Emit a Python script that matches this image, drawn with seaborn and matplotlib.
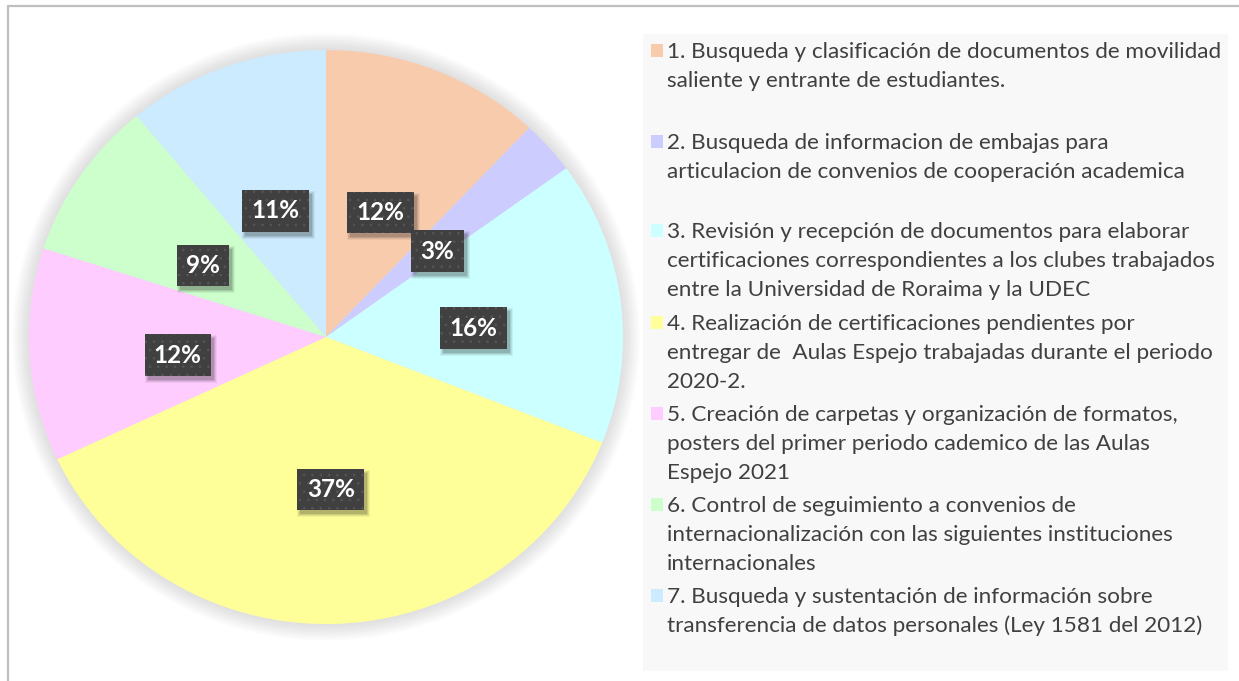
import matplotlib
matplotlib.use("Agg")
import matplotlib.pyplot as plt
import matplotlib.transforms as mtransforms
from matplotlib.patches import Rectangle, Ellipse
from matplotlib.lines import Line2D
import seaborn as sns

# data
labels = [
    "1. Busqueda y clasificación de documentos de movilidad\nsaliente y entrante de estudiantes.",
    "2. Busqueda de informacion de embajas para\narticulacion de convenios de cooperación academica",
    "3. Revisión y recepción de documentos para elaborar\ncertificaciones correspondientes a los clubes trabajados\nentre la Universidad de Roraima y la UDEC",
    "4. Realización de certificaciones pendientes por\nentregar de  Aulas Espejo trabajadas durante el periodo\n2020-2.",
    "5. Creación de carpetas y organización de formatos,\nposters del primer periodo cademico de las Aulas\nEspejo 2021",
    "6. Control de seguimiento a convenios de\ninternacionalización con las siguientes instituciones\ninternacionales",
    "7. Busqueda y sustentación de información sobre\ntransferencia de datos personales (Ley 1581 del 2012)",
]
shares = [12, 3, 16, 37, 12, 9, 11]
colors = sns.color_palette(["#F8CBAD", "#CCCCFF", "#CCFFFF", "#FFFF99",
                            "#FFCCFF", "#CCFFCC", "#CCEBFF"])

sns.set_theme(style="white")
plt.rcParams["font.family"] = ["Lato", "DejaVu Sans"]
plt.rcParams["hatch.linewidth"] = 0.6

W, H = 1239, 681
fig = plt.figure(figsize=(W / 100, H / 100), dpi=100)
fig.patch.set_facecolor("white")


def fx(x):
    return x / W


def fy(y):
    return 1 - y / H


# outer frame (only top and left edges are visible)
fig.add_artist(Line2D([fx(8), 1.01], [fy(6), fy(6)], color="#BFBFBF", lw=1.6))
fig.add_artist(Line2D([fx(8), fx(8)], [fy(6), -0.01], color="#BFBFBF", lw=1.6))

# pie (slightly wider than tall, as in the reference)
cx, cy, rx, ry = 326, 337, 297, 287
ax = fig.add_axes([fx(cx - rx), fy(cy + ry), 2 * rx / W, 2 * ry / H])
for k in range(8):
    glow = Ellipse((0.0, 0.0), 2 * (1.0 + 0.007 * (k + 1)),
                   2 * (1.0 + 0.0072 * (k + 1)), color="#8a8a8a",
                   alpha=0.03, lw=0, zorder=0, clip_on=False)
    ax.add_patch(glow)

wedges, texts, autotexts = ax.pie(
    shares, colors=colors, startangle=90, counterclock=False,
    autopct="%1.0f%%", pctdistance=0.5,
    wedgeprops=dict(linewidth=0, zorder=2),
    textprops=dict(color="white", fontsize=17.5, fontweight="bold"),
)
ax.set_xlim(-1, 1)
ax.set_ylim(-1, 1)
ax.set_aspect("auto")
ax.axis("off")

# the reference sits its data labels a little below the slice centroids
label_shift = mtransforms.offset_copy(ax.transData, fig=fig, x=0, y=-9,
                                      units="dots")
for t in autotexts:
    t.set_zorder(5)
    t.set_transform(label_shift)
    t.set_bbox(dict(boxstyle="square,pad=0.38", fc="#404040", ec="#565656",
                    lw=0, hatch=".."))

# soft drop shadow behind each label box
fig.canvas.draw()
renderer = fig.canvas.get_renderer()
for t in autotexts:
    bb = t.get_bbox_patch().get_window_extent(renderer)
    for g, a in [(3, 0.05), (2, 0.07), (1, 0.09), (0, 0.12)]:
        ax.add_patch(Rectangle((bb.x0 + 3 - g, bb.y0 - 4 - g),
                               bb.width + 2 * g, bb.height + 2 * g,
                               transform=mtransforms.IdentityTransform(),
                               fc="black", alpha=a, lw=0, zorder=4,
                               clip_on=False))

# legend panel
fig.add_artist(Rectangle((fx(643), fy(671)), (1228 - 643) / W, (671 - 34) / H,
                         transform=fig.transFigure, fc="#F8F8F8", ec="none"))
baselines = [58, 149, 238, 330, 421, 512, 603]
pitch = 29
for lab, col, b in zip(labels, colors, baselines):
    fig.add_artist(Rectangle((fx(651), fy(b - 1)), 12 / W, 13 / H,
                             transform=fig.transFigure, fc=col, ec="none"))
    for j, line in enumerate(lab.split("\n")):
        fig.text(fx(667), fy(b + j * pitch), line, fontsize=16.2,
                 color="#404040", ha="left", va="baseline")

fig.savefig("out.png", dpi=100)
